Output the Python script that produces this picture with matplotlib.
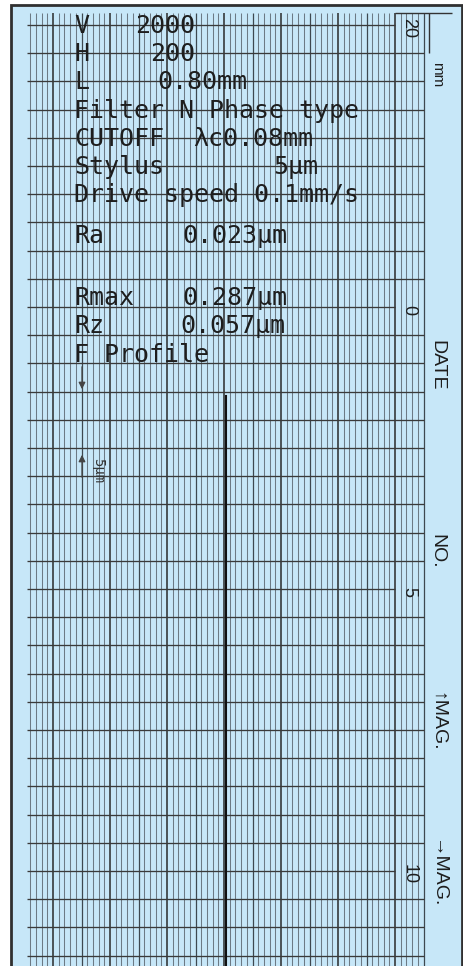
import numpy as np
import matplotlib
matplotlib.use('Agg')
import matplotlib.pyplot as plt
from matplotlib.patches import Rectangle

# ── printout of the roughness tester (dot-matrix column on the left) ──
param_labels = ['V', 'H', 'L', 'Filter N Phase type', 'CUTOFF', 'Stylus',
                'Drive speed 0.1mm/s', 'Ra', 'Rmax', 'Rz', 'F Profile']
param_values = ['2000', '200', '0.80mm', '', 'λc0.08mm', '5μm',
                '', '0.023μm', '0.287μm', '0.057μm', '']

# recorded profile: across-chart position (divisions) vs chart length
profile_x = [3.03, 3.03, 3.03]
profile_t = [1.58, 6.0, 11.7]

# chart paper scale printed along the right edge
scale_ticks = [-5, 0, 5, 10]
scale_labels = ['20', '0', '5', '10']
side_labels = ['mm', 'DATE', 'NO.', '↑MAG.', '→MAG.']
vert_scale = '5μm'

# ── layout (pixel geometry of the scan -> chart units) ──
W, H = 463, 966
X0, XS = 53.0, 57.0      # px of division 0, px per division
Y0, YS = 307.0, 56.4     # px of chart 0, px per chart unit


def ux(px):
    return (px - X0) / XS


def ty(px):
    return (px - Y0) / YS


row_t = [ty(p) for p in [33, 61, 89, 118, 146, 174, 202, 243, 305, 333, 362]]
val_x = [ux(p) if p else None for p in
         [135, 150, 157, None, 193, 273, None, 182, 182, 180, None]]
side_t = [ty(p) for p in [75, 365, 551, 722, 874]]

paper = '#c7e7f8'
ink = '#1e1e1e'

fig = plt.figure(figsize=(W / 100, H / 100), dpi=100)
ax = fig.add_axes([0, 0, 1, 1])
ax.set_xlim(ux(0), ux(W))
ax.set_ylim(ty(H), ty(0))
ax.axis('off')

# paper + frame
ax.add_patch(Rectangle((ux(11), ty(5)), ux(462) - ux(11), ty(H + 5) - ty(5),
                       facecolor=paper, edgecolor='#303030', lw=2, zorder=0))

# grid
g_left, g_right, g_top, g_bot = ux(27), ux(424), ty(13), ty(H)
vx = np.round(np.arange(-0.4, 6.51, 0.1), 2)
is_major = np.isclose(vx % 1, 0) | np.isclose(vx % 1, 1)
is_half = np.isclose(vx % 1, 0.5)
minor = ~(is_major | is_half)
ax.vlines(vx[minor], g_top, g_bot, color='#6c7a85', lw=0.75, zorder=1)
ax.vlines(vx[is_half], g_top, g_bot, color='#3e4850', lw=0.9, zorder=1)
ax.vlines(vx[is_major], g_top, g_bot, color='#2a2a2a', lw=1.1, zorder=1)

ht = np.arange(-5, 11.51, 0.5)
for t in ht:
    right = ux(395) if np.isclose(t, scale_ticks).any() else g_right
    ax.hlines(t, g_left, right, color='#3a3a3a', lw=0.95, zorder=1)

# mm mark top right
ax.hlines(g_top, ux(395), ux(452), color='#333333', lw=1.0)
ax.vlines(ux(429), g_top, scale_ticks[0] + 0.5, color='#333333', lw=1.0)

# profile trace
ax.plot(profile_x, profile_t, color='#111111', lw=1.5, zorder=3)

# printout text
mono = dict(family='DejaVu Sans Mono', fontsize=18, color=ink, zorder=4)
for lab, val, t, vxp in zip(param_labels, param_values, row_t, val_x):
    ax.text(ux(74), t, lab, ha='left', va='baseline', **mono)
    if val:
        ax.text(vxp, t, val, ha='left', va='baseline', **mono)

# vertical scale marker
ax.annotate('', xy=(ux(82), ty(392)), xytext=(ux(82), ty(364)),
            arrowprops=dict(arrowstyle='-|>', color='#444444', lw=0.9))
ax.annotate('', xy=(ux(82), ty(452)), xytext=(ux(82), ty(480)),
            arrowprops=dict(arrowstyle='-|>', color='#444444', lw=0.9))
ax.text(ux(98), ty(471), vert_scale, rotation=-90, ha='center', va='center',
        family='DejaVu Sans Mono', fontsize=10, color='#333333')

# right edge labels
sans = ['Liberation Sans', 'DejaVu Sans']
for t, lab in zip(scale_ticks, scale_labels):
    ax.text(ux(409), t + 0.06, lab, rotation=-90, ha='center', va='center',
            family=sans, fontsize=13, color=ink)
for t, lab in zip(side_t, side_labels):
    fs = 11 if lab == 'mm' else 14
    ax.text(ux(437), t, lab, rotation=-90, ha='center', va='center',
            family=sans, fontsize=fs, color=ink)

fig.savefig('out.png', dpi=100, facecolor='white')
